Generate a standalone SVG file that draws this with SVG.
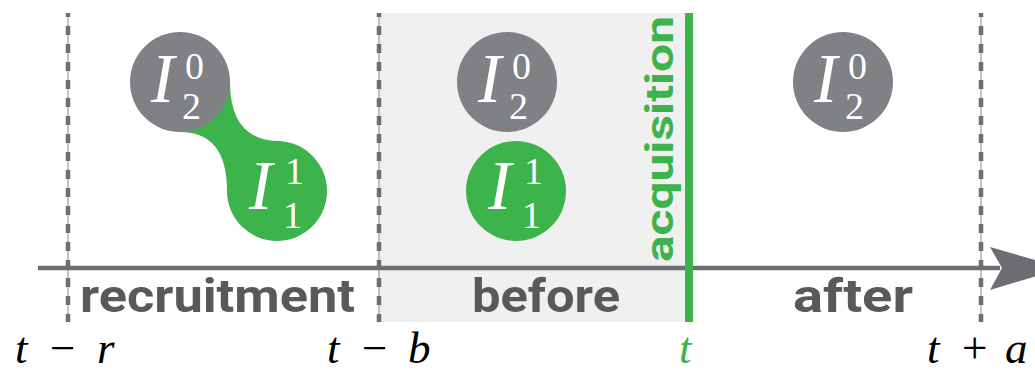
<svg xmlns="http://www.w3.org/2000/svg" width="1035" height="372" viewBox="0 0 1035 372">
<style>
.gray{fill:#808184}
.green{fill:#3cb44b}
.lbl{font-family:Roboto,"Liberation Sans",sans-serif;font-weight:700;fill:#58595b;font-size:47px}
.math{font-family:"Liberation Serif",serif;fill:#000;font-size:45px}
.it{font-style:italic}
.cm{font-family:"Liberation Serif",serif;fill:#fff}
.big{font-size:70px;font-style:italic}
.sm{font-size:38px}
.dthin{stroke:#b0b0b0;stroke-width:1.5}
.dthick{stroke:#6d6e71;stroke-width:4.5;stroke-dasharray:9 9;stroke-dashoffset:5}
</style>
<rect width="1035" height="372" fill="#fff"/>
<rect id="before-bg" x="378" y="13" width="308" height="309" fill="#f0f0f0"/>

<g id="connectors">
  <g id="dash-r"><line class="dthin" x1="68" y1="13" x2="68" y2="322"/><line class="dthick" x1="68" y1="13" x2="68" y2="322"/></g>
  <g id="dash-b"><line class="dthin" x1="379" y1="13" x2="379" y2="322"/><line class="dthick" x1="379" y1="13" x2="379" y2="322"/></g>
  <g id="dash-a"><line class="dthin" x1="981" y1="13" x2="981" y2="322"/><line class="dthick" x1="981" y1="13" x2="981" y2="322"/></g>
  <line id="axis" x1="38" y1="268" x2="1000" y2="268" stroke="#6d6e71" stroke-width="4.5"/>
  <path id="arrowhead" d="M990,247 L1063,268 L990,290 L1002,268 Z" fill="#6d6e71"/>
  <line id="acq-line" x1="689" y1="13" x2="689" y2="322" stroke="#3cb44b" stroke-width="8"/>
</g>

<g id="recruitment-nodes">
  <path class="green" d="M180,82 L230,82 Q230,141 280,141 L277,191 L227,191 Q227,132 180,132 Z"/>
  <g id="r-I11">
    <circle class="green" cx="277" cy="191" r="50"/>
    <text class="cm big" x="249" y="209">I</text>
    <text class="cm sm" x="285" y="184">1</text>
    <text class="cm sm" x="283" y="228">1</text>
  </g>
  <g id="r-I20">
    <circle class="gray" cx="180" cy="82" r="50"/>
    <text class="cm big" x="151" y="102">I</text>
    <text class="cm sm" x="185" y="79">0</text>
    <text class="cm sm" x="182" y="119">2</text>
  </g>
</g>

<g id="b-I20">
  <circle class="gray" cx="507" cy="82" r="50"/>
  <text class="cm big" x="478" y="102">I</text>
  <text class="cm sm" x="512" y="79">0</text>
  <text class="cm sm" x="509" y="119">2</text>
</g>
<g id="b-I11">
  <circle class="green" cx="516" cy="191" r="50"/>
  <text class="cm big" x="488" y="209">I</text>
  <text class="cm sm" x="524" y="184">1</text>
  <text class="cm sm" x="522" y="228">1</text>
</g>
<g id="a-I20">
  <circle class="gray" cx="843" cy="82" r="50"/>
  <text class="cm big" x="814" y="102">I</text>
  <text class="cm sm" x="848" y="79">0</text>
  <text class="cm sm" x="845" y="119">2</text>
</g>

<g id="labels">
  <text class="lbl" x="80" y="312" textLength="275" lengthAdjust="spacingAndGlyphs">recruitment</text>
  <text class="lbl" x="472" y="312" textLength="148" lengthAdjust="spacingAndGlyphs">before</text>
  <text class="lbl" x="793" y="312" textLength="120" lengthAdjust="spacingAndGlyphs">after</text>
  <text transform="translate(673,262) rotate(-90)" font-family="Roboto,'Liberation Sans',sans-serif" font-weight="700" font-size="38" fill="#3cb44b" textLength="246" lengthAdjust="spacingAndGlyphs">acquisition</text>
</g>

<g id="ticks">
  <text class="math"><tspan class="it" x="15" y="363">t</tspan><tspan x="50" y="363">−</tspan><tspan class="it" x="97" y="363">r</tspan></text>
  <text class="math"><tspan class="it" x="327" y="363">t</tspan><tspan x="362" y="363">−</tspan><tspan class="it" x="408" y="363">b</tspan></text>
  <text class="math it" x="679" y="363" style="fill:#3cb44b">t</text>
  <text class="math"><tspan class="it" x="927" y="363">t</tspan><tspan x="962" y="363">+</tspan><tspan class="it" x="1005" y="363">a</tspan></text>
</g>
</svg>
